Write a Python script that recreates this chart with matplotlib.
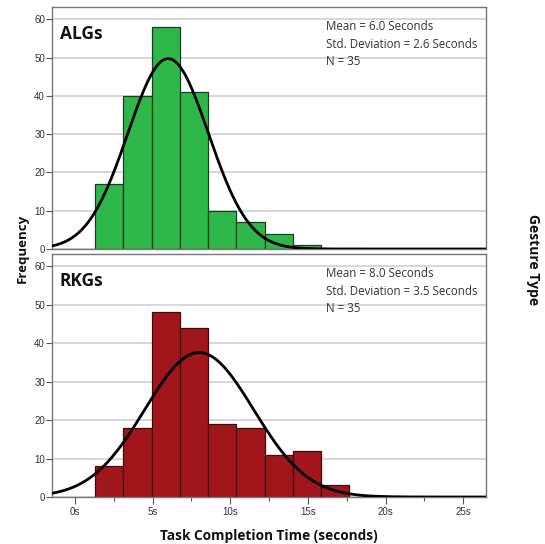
import numpy as np
import matplotlib
matplotlib.use("Agg")
import matplotlib.pyplot as plt

# Histogram data
bin_start = 1.29
bin_width = 1.82
alg_counts = [17, 40, 58, 41, 10, 7, 4, 1]
rkg_counts = [8, 18, 48, 44, 19, 18, 11, 12, 3]
alg_mean, alg_sd = 6.0, 2.6
rkg_mean, rkg_sd = 8.0, 3.5
n_people = 35
x_ticks = [0, 5, 10, 15, 20, 25]
x_labels = ["0s", "5s", "10s", "15s", "20s", "25s"]
y_ticks = [0, 10, 20, 30, 40, 50, 60]

panels = [
    ("ALGs", alg_counts, alg_mean, alg_sd, "#2fb84a", "#1f3a22"),
    ("RKGs", rkg_counts, rkg_mean, rkg_sd, "#a0161b", "#3a0c0c"),
]

lab_font = ["Open Sans", "DejaVu Sans"]
tick_font = ["Liberation Sans", "DejaVu Sans"]

fig = plt.figure(figsize=(5.45, 5.44), dpi=100)
ax_top = fig.add_axes([0.0954, 0.5423, 0.7963, 0.4449])
ax_bot = fig.add_axes([0.0954, 0.0864, 0.7963, 0.4467])

xs = np.linspace(-1.5, 26.5, 400)
for ax, (name, counts, mu, sd, col, edge) in zip([ax_top, ax_bot], panels):
    lefts = bin_start + bin_width * np.arange(len(counts))
    ax.bar(lefts, counts, width=bin_width, align="edge", color=col,
           edgecolor=edge, linewidth=0.9, zorder=2)
    # fitted normal curve scaled to the histogram
    scale = sum(counts) * bin_width
    pdf = np.exp(-0.5 * ((xs - mu) / sd) ** 2) / (sd * np.sqrt(2 * np.pi))
    ax.plot(xs, scale * pdf, color="black", lw=2, zorder=3)

    ax.set_xlim(-1.48, 26.47)
    ax.set_ylim(0, 63.2)
    ax.set_yticks(y_ticks)
    ax.set_yticklabels([str(v) for v in y_ticks], fontsize=7,
                       color="#333333", family=tick_font)
    ax.tick_params(axis="y", length=4, width=0.8, color="#555555", pad=1)
    ax.grid(axis="y", color="#d4d4d4", lw=1.3, zorder=0)
    ax.set_axisbelow(True)
    for s in ax.spines.values():
        s.set_color("#777777")
        s.set_linewidth(1.0)

    ax.text(0.018, 0.89, name, transform=ax.transAxes, fontsize=12.5,
            fontweight="bold", family=lab_font, color="#111111", va="center")
    stats = (f"Mean = {mu:.1f} Seconds\nStd. Deviation = {sd:.1f} Seconds\n"
             f"N = {n_people}")
    ax.text(0.631, 0.945, stats, transform=ax.transAxes, fontsize=8.3,
            family=lab_font, color="#333333", va="top", linespacing=1.45)

ax_top.set_xticks([])
ax_bot.set_xticks(x_ticks)
ax_bot.set_xticklabels(x_labels, fontsize=7, color="#333333", family=tick_font)
ax_bot.set_xticks(np.arange(2.5, 26, 5), minor=True)
ax_bot.tick_params(axis="x", which="major", length=5, width=0.8,
                   color="#555555", pad=2)
ax_bot.tick_params(axis="x", which="minor", length=3, width=0.8,
                   color="#555555")
ax_bot.set_xlabel("Task Completion Time (seconds)", fontsize=9.8,
                  fontweight="bold", family=lab_font, color="#111111",
                  labelpad=9)

fig.text(0.04, 0.544, "Frequency", rotation=90, fontsize=9.5,
         fontweight="bold", family=lab_font, color="#111111",
         ha="center", va="center")
fig.text(0.978, 0.522, "Gesture Type", rotation=-90, fontsize=10,
         fontweight="bold", family=lab_font, color="#111111",
         ha="center", va="center")

fig.savefig("out.png", dpi=100, facecolor="white")
